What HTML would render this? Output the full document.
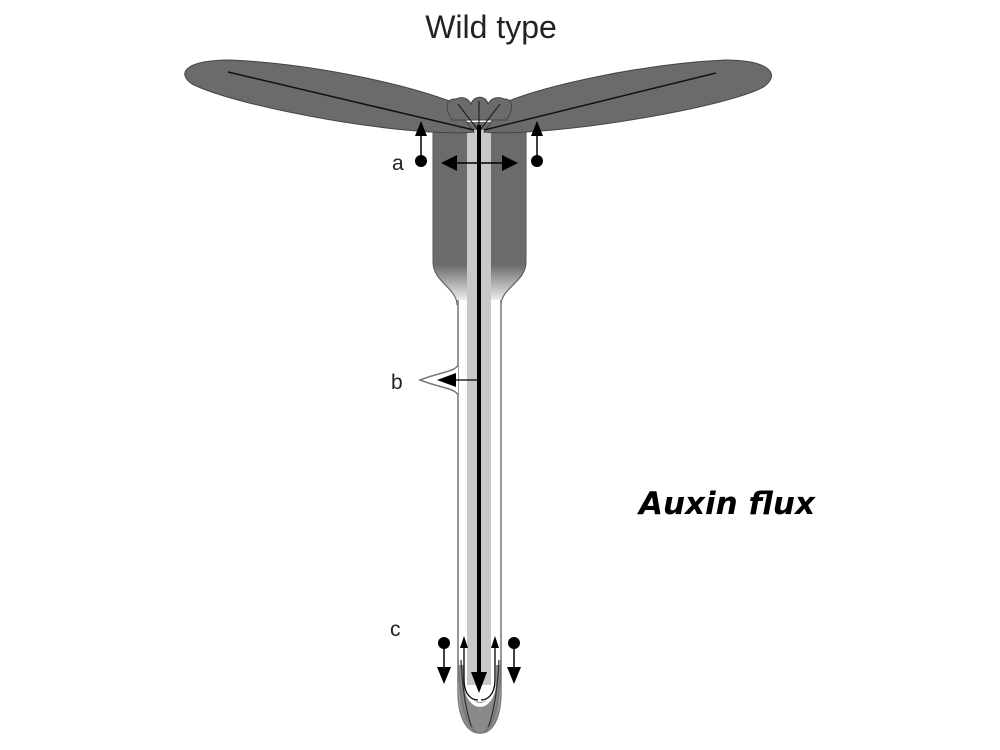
<!DOCTYPE html>
<html><head><meta charset="utf-8"><style>
html,body{margin:0;padding:0;background:#fff;width:1000px;height:750px;overflow:hidden}
svg{display:block}
</style></head><body>
<svg width="1000" height="750" viewBox="0 0 1000 750" xmlns="http://www.w3.org/2000/svg">
<defs>
<linearGradient id="hg" x1="0" y1="0" x2="0" y2="1">
<stop offset="0" stop-color="#6b6b6b"/><stop offset="0.78" stop-color="#6b6b6b"/><stop offset="1" stop-color="#fff"/>
</linearGradient>
</defs>
<text x="491" y="38" font-family="Liberation Sans, sans-serif" font-size="32" text-anchor="middle" fill="#222">Wild type</text>
<text x="727" y="514" font-family="DejaVu Sans, sans-serif" font-size="31" font-weight="bold" font-style="italic" text-anchor="middle" fill="#000">Auxin flux</text>

<!-- hypocotyl -->
<path d="M433,122 L433,262 C433,282 457,288 457,305 L501,305 C501,288 526,282 526,262 L526,122 Z" fill="url(#hg)"/>
<path d="M433,122 L433,262 C433,282 457,288 457,305 M526,122 L526,262 C526,282 501,288 501,305" fill="none" stroke="#555" stroke-width="1"/>

<!-- root -->
<path d="M458,300 L458,690 C458,720 468,733 480,733 C492,733 501,720 501,690 L501,300" fill="#fff" stroke="#777" stroke-width="1.5"/>
<path d="M459,665 L459,690 C459,720 468,732 480,732 C492,732 500,720 500,690 L500,665 Z" fill="#8a8a8a"/>
<rect x="467" y="130" width="24" height="560" fill="#c8c8c8"/>
<path d="M466,650 L466,682 C466,698 474,705 480,705 C486,705 494,698 494,682 L494,650" fill="none" stroke="#fff" stroke-width="4"/>
<path d="M467,650 L467,682 C467,696 474,702 480,702 C486,702 493,696 493,682 L493,650 Z" fill="#fff"/>
<rect x="467" y="300" width="24" height="385" fill="#c8c8c8"/>
<path d="M461,660 C463,700 469,720 472,728 M499,660 C497,700 491,720 488,728" fill="none" stroke="#333" stroke-width="1.3"/>
<path d="M458,660 C460,700 466,733 480,733 C494,733 500,700 501,660" fill="none" stroke="#777" stroke-width="1.5"/>

<!-- cotyledons -->
<path d="M474,132 C410,138 240,108 192,84 C175,72 188,60 230,60 C320,64 410,86 452,102 Z" fill="#6b6b6b" stroke="#444" stroke-width="1"/>
<path d="M484,132 C550,138 735,106 765,86 C782,72 765,60 725,60 C640,64 545,86 506,102 Z" fill="#6b6b6b" stroke="#444" stroke-width="1"/>
<line x1="228" y1="72" x2="474" y2="130" stroke="#111" stroke-width="1.5"/>
<line x1="716" y1="73" x2="484" y2="130" stroke="#111" stroke-width="1.5"/>
<!-- apex -->
<path d="M452,120 C444,108 446,98 456,99 C462,96 468,98 471,104 C474,95 486,95 488,104 C491,98 498,96 504,99 C513,98 514,110 506,120 Z" fill="#6b6b6b" stroke="#444" stroke-width="1"/>
<path d="M478,130 L458,104 M479,130 L479,101 M480,130 L500,104" stroke="#111" stroke-width="1" fill="none"/>

<!-- central black line -->
<rect x="477" y="125" width="4" height="548" fill="#000"/>
<path d="M471,672 L487,672 L479,693 Z" fill="#000"/>

<!-- a arrows -->
<line x1="421" y1="160" x2="421" y2="132" stroke="#000" stroke-width="1.5"/>
<path d="M415,136 L427,136 L421,121 Z" fill="#000"/>
<circle cx="421" cy="161" r="6" fill="#000"/>
<line x1="537" y1="160" x2="537" y2="132" stroke="#000" stroke-width="1.5"/>
<path d="M531,136 L543,136 L537,121 Z" fill="#000"/>
<circle cx="537" cy="161" r="6" fill="#000"/>
<line x1="455" y1="163" x2="505" y2="163" stroke="#000" stroke-width="1.5"/>
<path d="M441,163 L457,155 L457,171 Z M518,163 L502,155 L502,171 Z" fill="#000"/>
<text x="392" y="170" font-family="Liberation Sans, sans-serif" font-size="21" fill="#222">a</text>

<!-- b -->
<path d="M458,365 C455,372 440,372 420,380 C440,388 455,388 458,395" fill="#fff" stroke="#777" stroke-width="1.5"/>
<line x1="452" y1="380" x2="478" y2="380" stroke="#000" stroke-width="1.3"/>
<path d="M437,380 L456,373 L456,387 Z" fill="#000"/>
<text x="391" y="389" font-family="Liberation Sans, sans-serif" font-size="21" fill="#222">b</text>

<!-- c -->
<text x="390" y="636" font-family="Liberation Sans, sans-serif" font-size="21" fill="#222">c</text>
<circle cx="444" cy="643" r="6" fill="#000"/>
<line x1="444" y1="643" x2="444" y2="670" stroke="#000" stroke-width="1.5"/>
<path d="M437,667 L451,667 L444,684 Z" fill="#000"/>
<circle cx="514" cy="643" r="6" fill="#000"/>
<line x1="514" y1="643" x2="514" y2="670" stroke="#000" stroke-width="1.5"/>
<path d="M507,667 L521,667 L514,684 Z" fill="#000"/>
<path d="M464,645 L464,680 C464,695 472,700 478,700" fill="none" stroke="#000" stroke-width="1.3"/>
<path d="M460,648 L468,648 L464,636 Z" fill="#000"/>
<path d="M495,645 L495,680 C495,695 487,700 481,700" fill="none" stroke="#000" stroke-width="1.3"/>
<path d="M491,648 L499,648 L495,636 Z" fill="#000"/>
</svg>
</body></html>
